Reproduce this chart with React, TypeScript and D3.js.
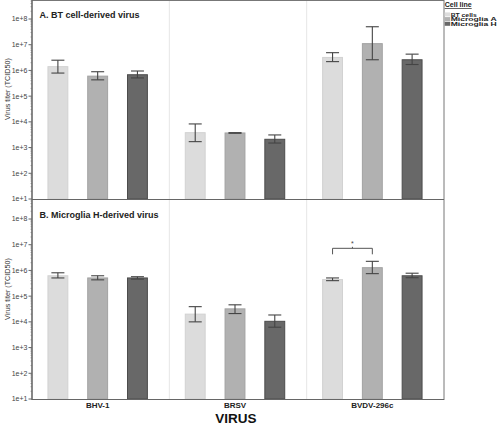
import React from "react";
import * as d3 from "d3";

const viruses = ["BHV-1", "BRSV", "BVDV-296c"];
const cellLines = ["BT cells", "Microglia A", "Microglia H"];
const legendWidths = [26, 46, 46];
const cellColors = ["#dcdcdc", "#b1b1b1", "#686868"];
const cellStrokes = ["#d2d2d2", "#a2a2a2", "#4c4c4c"];
const tickValues = [1e1, 1e2, 1e3, 1e4, 1e5, 1e6, 1e7, 1e8];
const tickLabels = ["1e+1", "1e+2", "1e+3", "1e+4", "1e+5", "1e+6", "1e+7", "1e+8"];

// Panel A: BT cell-derived virus (rows = virus, cols = cell line)
const meanA = [
  [1.4e6, 6.0e5, 6.8e5],
  [3.8e3, 3.7e3, 2.1e3],
  [3.2e6, 1.1e7, 2.6e6],
];
const hiA = [
  [2.5e6, 8.9e5, 9.5e5],
  [8.3e3, 3.8e3, 3.1e3],
  [4.9e6, 5.0e7, 4.3e6],
];
const loA = [
  [7.9e5, 4.3e5, 5.1e5],
  [1.7e3, 3.6e3, 1.5e3],
  [2.2e6, 2.6e6, 1.7e6],
];

// Panel B: Microglia H-derived virus
const meanB = [
  [6.2e5, 5.1e5, 5.1e5],
  [2.0e4, 3.2e4, 1.05e4],
  [4.4e5, 1.28e6, 6.2e5],
];
const hiB = [
  [8.1e5, 6.2e5, 5.7e5],
  [3.9e4, 4.6e4, 1.85e4],
  [5.1e5, 2.26e6, 7.8e5],
];
const loB = [
  [5.1e5, 4.3e5, 4.6e5],
  [1.0e4, 2.1e4, 6.2e3],
  [4.0e5, 7.5e5, 5.2e5],
];

const panels = [
  { title: "A. BT cell-derived virus", mean: meanA, hi: hiA, lo: loA, top: 0 },
  { title: "B. Microglia H-derived virus", mean: meanB, hi: hiB, lo: loB, top: 200 },
];

const W = 500;
const H = 425;
const left = 32;
const right = 444;
const font = "Arial, 'Liberation Sans', Helvetica, sans-serif";

export default function App() {
  const x0 = d3.scaleBand<string>().domain(viruses).range([left, right]);
  const x1 = d3
    .scaleBand<string>()
    .domain(cellLines)
    .range([6, x0.bandwidth() - 12])
    .paddingInner(0.5)
    .paddingOuter(0.25);
  const capW = 13;

  return (
    <div style={{ position: "absolute", left: 0, top: 0 }}>
      <svg width={W} height={H} style={{ display: "block", fontFamily: font }}>
        <rect x={0} y={0} width={W} height={H} fill="#ffffff" />
        {/* group separators */}
        {viruses.slice(1).map((v) => (
          <line
            key={v}
            x1={x0(v)!}
            x2={x0(v)!}
            y1={0}
            y2={399.5}
            stroke="#e6e6e6"
            strokeWidth={1}
          />
        ))}
        {panels.map((p, pi) => {
          const y = d3
            .scaleLog()
            .domain([1e1, 1e8])
            .range([p.top + 199, p.top + 19]);
          const minor: number[] = [];
          for (let e = 1; e < 9; e++) {
            for (let m = 2; m <= 9; m++) {
              const v = m * Math.pow(10, e);
              if (y(v) >= p.top + 1) minor.push(v);
            }
          }
          return (
            <g key={pi}>
              {viruses.map((v, vi) => (
                <g key={v}>
                  {cellLines.map((c, ci) => {
                    const bx = x0(v)! + x1(c)!;
                    const bw = x1.bandwidth();
                    const cx = bx + bw / 2;
                    const yt = y(p.mean[vi][ci]);
                    const yb = y(1e1);
                    const yh = y(p.hi[vi][ci]);
                    const yl = y(p.lo[vi][ci]);
                    return (
                      <g key={c}>
                        <rect
                          x={bx}
                          y={yt}
                          width={bw}
                          height={yb - yt}
                          fill={cellColors[ci]}
                          stroke={cellStrokes[ci]}
                          strokeWidth={1}
                        />
                        <line x1={cx} x2={cx} y1={yh} y2={yl} stroke="#444" strokeWidth={1.1} />
                        <line x1={cx - capW / 2} x2={cx + capW / 2} y1={yh} y2={yh} stroke="#444" strokeWidth={1.1} />
                        <line x1={cx - capW / 2} x2={cx + capW / 2} y1={yl} y2={yl} stroke="#444" strokeWidth={1.1} />
                      </g>
                    );
                  })}
                </g>
              ))}
              {/* y axis ticks */}
              {minor.map((v, i) => (
                <line key={"m" + i} x1={left - 1.5} x2={left} y1={y(v)} y2={y(v)} stroke="#777" strokeWidth={0.6} />
              ))}
              {tickValues.map((t, i) => (
                <g key={t}>
                  <line x1={left - 3.5} x2={left} y1={y(t)} y2={y(t)} stroke="#666" strokeWidth={1} />
                  <text
                    x={left - 4.5}
                    y={y(t)}
                    dy="0.35em"
                    textAnchor="end"
                    fontSize={7}
                    fill="#444"
                  >
                    {tickLabels[i]}
                  </text>
                </g>
              ))}
              <text
                transform={`translate(9.5,${p.top + 89}) rotate(-90)`}
                textAnchor="middle"
                fontSize={7.2}
                fill="#333"
              >
                Virus titer (TCID50)
              </text>
              <text x={39.5} y={p.top + 17.5} fontSize={9} fontWeight="bold" fill="#222">
                {p.title}
              </text>
            </g>
          );
        })}
        {/* significance bracket in panel B, BVDV-296c: BT cells vs Microglia A */}
        {(() => {
          const y = d3.scaleLog().domain([1e1, 1e8]).range([399, 219]);
          const v = viruses[2];
          const xa = x0(v)! + x1(cellLines[0])! + x1.bandwidth() / 2;
          const xb = x0(v)! + x1(cellLines[1])! + x1.bandwidth() / 2;
          const yTop = y(hiB[2][1]) - 13;
          const xm = (xa + xb) / 2;
          return (
            <g stroke="#555" strokeWidth={1} fill="none">
              <path d={`M${xa},${yTop + 6}V${yTop}H${xb}V${yTop + 6}`} />
              <line x1={xm} x2={xm} y1={yTop} y2={yTop - 1.5} />
              <text x={xm} y={yTop - 2.5} textAnchor="middle" fontSize={7} fill="#444" stroke="none">
                *
              </text>
            </g>
          );
        })()}
        {/* frame */}
        <rect x={left} y={0.5} width={right - left} height={399} fill="none" stroke="#777" strokeWidth={1} />
        <line x1={left} x2={right} y1={199.5} y2={199.5} stroke="#666" strokeWidth={1.2} />
        <line x1={left} x2={right} y1={399.5} y2={399.5} stroke="#666" strokeWidth={1.2} />
        <line x1={left} x2={left} y1={0} y2={400} stroke="#666" strokeWidth={1.2} />
        {/* x labels */}
        {viruses.map((v) => (
          <text
            key={v}
            x={x0(v)! + x1(cellLines[1])! + x1.bandwidth() / 2}
            y={407.5}
            textAnchor="middle"
            fontSize={8}
            fontWeight="bold"
            fill="#222"
          >
            {v}
          </text>
        ))}
        <text x={236} y={423} textAnchor="middle" fontSize={13.5} fontWeight="bold" fill="#111">
          VIRUS
        </text>
        {/* legend */}
        <g>
          <text
            x={444.7}
            y={7}
            fontSize={7}
            fontWeight="bold"
            fill="#222"
            textDecoration="underline"
            textLength={27}
            lengthAdjust="spacingAndGlyphs"
          >
            Cell line
          </text>
          {cellLines.map((c, i) => (
            <g key={c}>
              <rect x={444.7} y={12.4 + i * 4.7} width={5.5} height={4} fill={cellColors[i]} />
              <text
                x={450.7}
                y={16.5 + i * 4.7}
                fontSize={5.8}
                fontWeight="bold"
                fill="#222"
                textLength={legendWidths[i]}
                lengthAdjust="spacingAndGlyphs"
              >
                {c}
              </text>
            </g>
          ))}
        </g>
      </svg>
    </div>
  );
}
